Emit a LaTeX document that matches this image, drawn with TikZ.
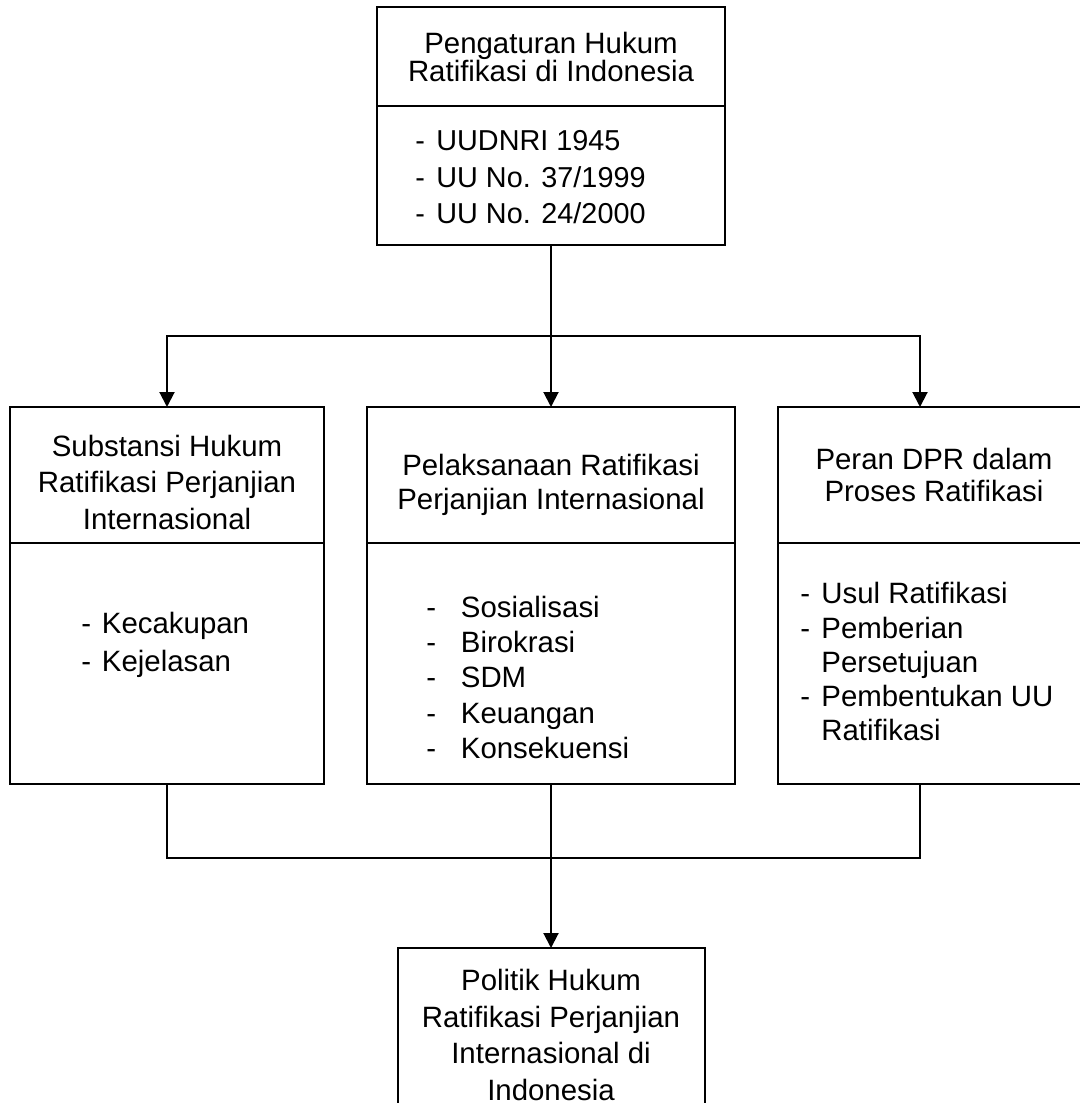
\documentclass[tikz,border=0pt]{standalone}
\usepackage{fontspec}
\setmainfont{Liberation Sans}
\usetikzlibrary{positioning,arrows.meta}
\newcommand{\dashgap}[1]{\makebox[#1][l]{-}}
\newcommand{\padtop}[1]{\rule{0pt}{#1}}

\begin{document}
\begin{tikzpicture}[
  x=0.5pt, y=-0.5pt,
  box/.style={draw, line width=1pt, align=center, inner sep=0pt, outer sep=0pt, font=\fontsize{14.7}{18.25}\selectfont},
  items/.style={align=left, inner sep=0pt, font=\fontsize{14.7}{#1}\selectfont},
  items/.default=18.25,
  arrow/.style={-{Triangle[width=7.5pt,length=7.5pt]}, line width=1pt}
]
\useasboundingbox (0,0) rectangle (1080,1103);

% top box
\node[box, minimum width=174pt, minimum height=49.5pt, font=\fontsize{14.7}{14}\selectfont] (toptitle) at (551,56.5) {Pengaturan Hukum\\Ratifikasi di Indonesia};
\node[box, minimum width=174pt, minimum height=69.5pt, below=0pt of toptitle] (toplist) {};
\node[items, font=\fontsize{14.4}{18.25}\selectfont, below right=12pt and 19pt of toplist.north west] (topitems) {\dashgap{10.5pt}UUDNRI 1945\\\dashgap{10.5pt}UU No. 37/1999\\\dashgap{10.5pt}UU No. 24/2000};

% three middle boxes
\node[box, minimum width=157pt, minimum height=68pt] (lefttitle) at (167,475) {\padtop{17.7pt}Substansi Hukum\\Ratifikasi Perjanjian\\Internasional};
\node[box, minimum width=157pt, minimum height=120.5pt, below=0pt of lefttitle] (leftlist) {};
\node[items=19, below right=34.25pt and 35.5pt of leftlist.north west] (leftitems) {\dashgap{10.3pt}Kecakupan\\\dashgap{10.3pt}Kejelasan};

\node[box, minimum width=184pt, minimum height=68pt, font=\fontsize{14.7}{17}\selectfont] (midtitle) at (551,475) {\padtop{20.7pt}Pelaksanaan Ratifikasi\\Perjanjian Internasional};
\node[box, minimum width=184pt, minimum height=120.5pt, below=0pt of midtitle] (midlist) {};
\node[items=17.65, below right=26.25pt and 29.5pt of midlist.north west] (miditems) {\dashgap{17.25pt}Sosialisasi\\\dashgap{17.25pt}Birokrasi\\\dashgap{17.25pt}SDM\\\dashgap{17.25pt}Keuangan\\\dashgap{17.25pt}Konsekuensi};

\node[box, minimum width=156pt, minimum height=68pt, font=\fontsize{14.7}{16}\selectfont] (righttitle) at (934,475) {Peran DPR dalam\\Proses Ratifikasi};
\node[box, minimum width=156pt, minimum height=120.5pt, below=0pt of righttitle] (rightlist) {};
\node[items=17.15, below right=19.5pt and 11pt of rightlist.north west] (rightitems) {\dashgap{10.5pt}Usul Ratifikasi\\\dashgap{10.5pt}Pemberian\\\hspace*{10.5pt}Persetujuan\\\dashgap{10.5pt}Pembentukan UU\\\hspace*{10.5pt}Ratifikasi};

% bottom box
\node[box, minimum width=153.5pt, minimum height=87pt, font=\fontsize{14.7}{18.35}\selectfont] (result) at (551,1035) {Politik Hukum\\Ratifikasi Perjanjian\\Internasional di\\Indonesia};

\coordinate (fork) at (551,336);
\coordinate (join) at (551,858);
\draw[arrow] (toplist) -- (midtitle);
\draw[arrow] (fork) -| (lefttitle);
\draw[arrow] (fork) -| ([xshift=-7pt]righttitle.north);
\draw[line width=1pt] (leftlist) |- (join) -| ([xshift=-7pt]rightlist.south);
\draw[arrow] (midlist) -- (result);
\end{tikzpicture}
\end{document}
